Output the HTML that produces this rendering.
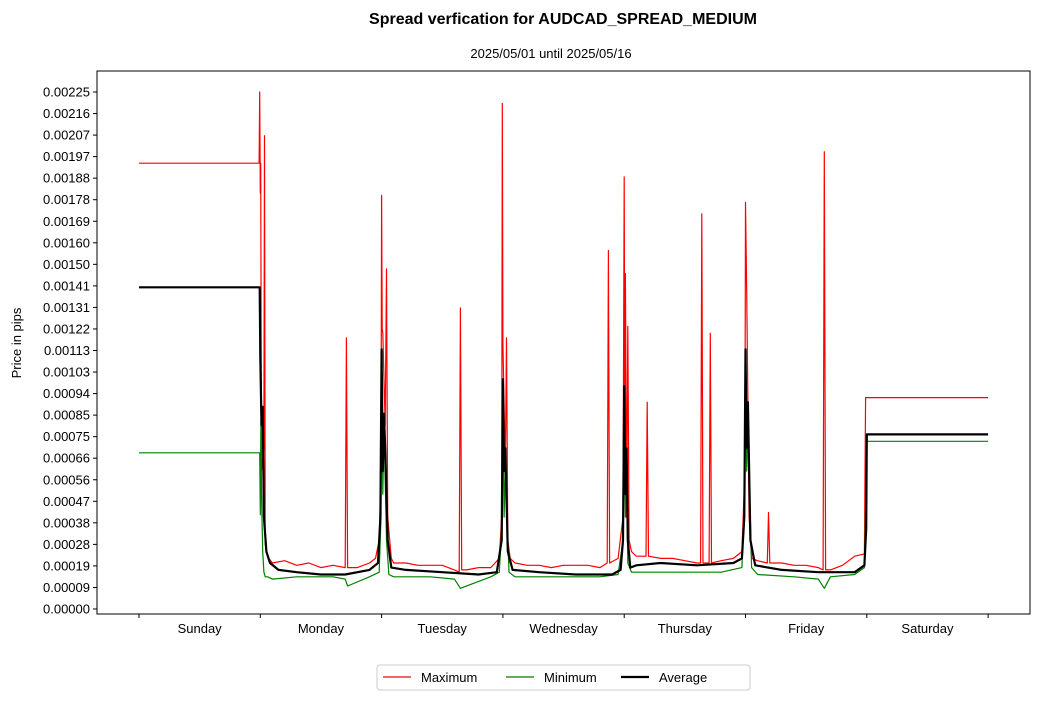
<!DOCTYPE html>
<html><head><meta charset="utf-8"><style>
body{margin:0;background:#fff;font-family:"Liberation Sans",sans-serif;}
svg text{font-family:"Liberation Sans",sans-serif;}
</style></head><body>
<svg id="chart" width="1039" height="700">
<text x="563" y="24" text-anchor="middle" font-size="16" font-weight="bold">Spread verfication for AUDCAD_SPREAD_MEDIUM</text>
<text x="551" y="58" text-anchor="middle" font-size="13">2025/05/01 until 2025/05/16</text>
<text transform="translate(21,343) rotate(-90)" text-anchor="middle" font-size="13">Price in pips</text>
<rect x="97" y="71" width="933" height="543" fill="none" stroke="#000" stroke-width="1"/>
<g id="yticks"></g><g id="xticks"></g><g id="series"></g>
<g>
<rect x="377" y="665" width="373" height="25" fill="#fff" stroke="#ccc" rx="3"/>
<line x1="383" y1="677" x2="411" y2="677" stroke="red" stroke-width="1.2"/>
<text x="421" y="682" font-size="13">Maximum</text>
<line x1="506" y1="677" x2="534" y2="677" stroke="green" stroke-width="1.2"/>
<text x="544" y="682" font-size="13">Minimum</text>
<line x1="621" y1="677" x2="649" y2="677" stroke="#000" stroke-width="2.2"/>
<text x="659" y="682" font-size="13">Average</text>
</g>
</svg>
<script>
const yTickLabels=["0.00000","0.00009","0.00019","0.00028","0.00038","0.00047","0.00056","0.00066","0.00075","0.00085","0.00094","0.00103","0.00113","0.00122","0.00131","0.00141","0.00150","0.00160","0.00169","0.00178","0.00188","0.00197","0.00207","0.00216","0.00225"];
const days=["Sunday","Monday","Tuesday","Wednesday","Thursday","Friday","Saturday"];
const maxT=[0,0.99,0.995,1.0,1.003,1.01,1.03,1.035,1.04,1.05,1.07,1.1,1.2,1.3,1.4,1.5,1.6,1.7,1.71,1.72,1.8,1.9,1.95,1.98,1.995,2.0,2.005,2.01,2.03,2.04,2.05,2.08,2.1,2.2,2.3,2.4,2.5,2.6,2.64,2.65,2.66,2.7,2.8,2.9,2.97,2.99,2.995,3.0,3.02,3.03,3.04,3.06,3.1,3.2,3.3,3.4,3.5,3.6,3.7,3.8,3.86,3.87,3.88,3.95,3.99,4.0,4.005,4.01,4.02,4.03,4.04,4.06,4.1,4.18,4.19,4.2,4.3,4.4,4.5,4.6,4.63,4.64,4.65,4.7,4.71,4.72,4.8,4.9,4.97,4.995,5.0,5.01,5.02,5.03,5.05,5.1,5.18,5.19,5.2,5.3,5.4,5.5,5.6,5.64,5.65,5.66,5.7,5.8,5.9,5.98,5.99,6.0,7.0];
const maxV=[0.00194,0.00194,0.00225,0.00181,0.00194,0.0006,0.0007,0.00206,0.00028,0.00025,0.00022,0.0002,0.00021,0.00019,0.0002,0.00018,0.00019,0.00018,0.00118,0.00018,0.00018,0.0002,0.00022,0.0003,0.0006,0.0018,0.00122,0.0012,0.0008,0.00148,0.0004,0.00022,0.0002,0.0002,0.00019,0.00019,0.00019,0.00017,0.00016,0.00131,0.00017,0.00017,0.00018,0.00018,0.00022,0.0004,0.0022,0.00116,0.0006,0.00118,0.0003,0.00022,0.0002,0.00019,0.00019,0.00018,0.00019,0.00019,0.00019,0.00018,0.0002,0.00156,0.0002,0.00022,0.0004,0.00188,0.0008,0.00146,0.0004,0.00123,0.0003,0.00025,0.00023,0.00023,0.0009,0.00023,0.00022,0.00022,0.00021,0.0002,0.0002,0.00172,0.0002,0.0002,0.0012,0.0002,0.00021,0.00022,0.00025,0.0006,0.00177,0.00138,0.0009,0.0004,0.00022,0.00021,0.0002,0.00042,0.0002,0.0002,0.00019,0.00019,0.00018,0.00017,0.00199,0.00017,0.00017,0.00019,0.00023,0.00024,0.00092,0.00092,0.00092];
const minT=[0,0.995,1.0,1.005,1.01,1.02,1.03,1.04,1.06,1.1,1.3,1.6,1.7,1.72,1.9,1.98,1.995,2.0,2.01,2.02,2.04,2.06,2.1,2.4,2.6,2.65,2.9,2.97,2.995,3.0,3.01,3.02,3.05,3.1,3.5,3.8,3.95,3.99,4.0,4.01,4.02,4.03,4.06,4.2,4.5,4.8,4.97,4.995,5.0,5.01,5.02,5.05,5.1,5.4,5.6,5.65,5.7,5.9,5.98,6.0,7.0];
const minV=[0.00068,0.00068,0.00041,0.00082,0.0005,0.00025,0.00016,0.00014,0.00014,0.00013,0.00014,0.00014,0.00013,0.0001,0.00014,0.00016,0.0004,0.00112,0.0005,0.0008,0.0003,0.00015,0.00014,0.00014,0.00013,0.00009,0.00014,0.00016,0.0004,0.00095,0.0004,0.0006,0.00016,0.00014,0.00014,0.00014,0.00015,0.0003,0.0009,0.0004,0.0006,0.0002,0.00016,0.00016,0.00016,0.00016,0.00018,0.0005,0.00112,0.0006,0.0008,0.00018,0.00015,0.00014,0.00013,0.00009,0.00014,0.00015,0.00018,0.00073,0.00073];
const avgT=[0,0.995,1.0,1.01,1.02,1.03,1.05,1.08,1.15,1.3,1.5,1.7,1.9,1.97,1.99,2.0,2.01,2.02,2.03,2.05,2.08,2.2,2.5,2.8,2.95,2.99,3.0,3.01,3.02,3.04,3.08,3.3,3.6,3.9,3.97,3.99,4.0,4.01,4.02,4.03,4.05,4.1,4.3,4.6,4.9,4.97,4.99,5.0,5.01,5.02,5.04,5.08,5.3,5.6,5.9,5.98,5.995,6.0,7.0];
const avgV=[0.0014,0.0014,0.0011,0.0008,0.00088,0.0004,0.00025,0.0002,0.00017,0.00016,0.00015,0.00015,0.00017,0.0002,0.0004,0.00113,0.0006,0.00085,0.0007,0.0003,0.00018,0.00017,0.00016,0.00015,0.00016,0.0003,0.001,0.0006,0.0007,0.00025,0.00017,0.00016,0.00015,0.00015,0.00017,0.0003,0.00097,0.0005,0.0007,0.0003,0.00018,0.00019,0.0002,0.00019,0.0002,0.00022,0.0004,0.00113,0.0007,0.0009,0.0003,0.00019,0.00017,0.00016,0.00016,0.00019,0.00035,0.00076,0.00076];
const X=d=>139+d*121.3;
const Y=v=>609-v*229778;
const NS="http://www.w3.org/2000/svg";
const yg=document.getElementById('yticks');
yTickLabels.forEach((l,i)=>{
  const y=609-i*(517/24);
  const t=document.createElementNS(NS,'line');
  t.setAttribute('x1',93);t.setAttribute('x2',97);t.setAttribute('y1',y);t.setAttribute('y2',y);t.setAttribute('stroke','#000');
  
  
  yg.appendChild(t);
  const tx=document.createElementNS(NS,'text');
  tx.setAttribute('x',90);tx.setAttribute('y',y+4.5);tx.setAttribute('text-anchor','end');tx.setAttribute('font-size','13');
  tx.textContent=l;
  
  
  yg.appendChild(tx);
});
const xg=document.getElementById('xticks');
for(let i=0;i<=7;i++){
  const t=document.createElementNS(NS,'line');
  t.setAttribute('x1',X(i));t.setAttribute('x2',X(i));t.setAttribute('y1',614);t.setAttribute('y2',618);t.setAttribute('stroke','#000');
  
  
  xg.appendChild(t);
}
days.forEach((d,i)=>{
  const tx=document.createElementNS(NS,'text');
  tx.setAttribute('x',X(i+0.5));tx.setAttribute('y',633);tx.setAttribute('text-anchor','middle');tx.setAttribute('font-size','13');
  tx.textContent=d;
  
  
  xg.appendChild(tx);
});
const sg=document.getElementById('series');
function line(ts,vs,color,w,name){
  const p=document.createElementNS(NS,'polyline');
  p.setAttribute('points',ts.map((t,i)=>X(t).toFixed(1)+','+Y(vs[i]).toFixed(1)).join(' '));
  p.setAttribute('fill','none');p.setAttribute('stroke',color);p.setAttribute('stroke-width',w);p.setAttribute('stroke-linejoin','round');
  
  
  sg.appendChild(p);
}
line(maxT,maxV,'red',1.2,'maximum-line');
line(minT,minV,'green',1.2,'minimum-line');
line(avgT,avgV,'#000',2.2,'average-line');
</script>
</body></html>
